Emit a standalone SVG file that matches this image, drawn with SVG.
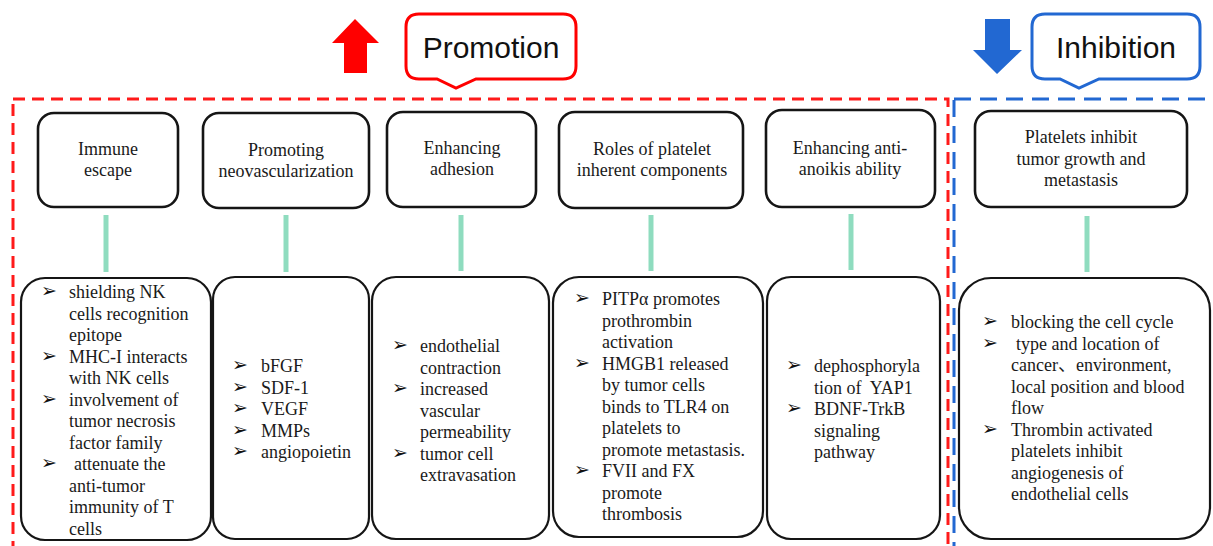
<svg xmlns="http://www.w3.org/2000/svg" width="1213" height="546" viewBox="0 0 1213 546">
<style>
.hb{fill:#fff;stroke:#151515;stroke-width:2.6}
.bb{fill:#fff;stroke:#151515;stroke-width:2.2}
.ht{font-family:"Liberation Serif",serif;font-size:18px;fill:#1a1a1a;text-anchor:middle}
.bt{font-family:"Liberation Serif","Noto Sans CJK SC",serif;font-size:18px;fill:#1a1a1a}
.bu{font-family:"DejaVu Sans",sans-serif;font-size:19px;fill:#111}
.cn{stroke:#8fdcbf;stroke-width:5}
.lab{font-family:"Liberation Sans",Arial,sans-serif;font-size:30px;fill:#111;text-anchor:middle}
</style>
<rect width="1213" height="546" fill="#fff"/>
<!-- region frames -->
<rect x="13" y="99" width="935" height="470" fill="none" stroke="#ff1a1a" stroke-width="3" stroke-dasharray="12 7"/>
<rect x="954" y="99" width="280" height="470" fill="none" stroke="#2268d2" stroke-width="3" stroke-dasharray="17 9"/>
<!-- arrows and callouts -->
<g id="promotion">
<polygon points="355,19 379,43 367,43 367,73 344,73 344,43 332,43" fill="#ff0000"/>
<path d="M419,14 H563 Q576,14 576,27 V66 Q576,79 563,79 H476 L456,88 L437,79 H419 Q406,79 406,66 V27 Q406,14 419,14 Z" fill="#fff" stroke="#ff0000" stroke-width="3"/>
<text class="lab" x="491" y="58">Promotion</text>
</g>
<g id="inhibition">
<polygon points="985,19 1010,19 1010,50 1022,50 997,74 973,50 985,50" fill="#2268d2"/>
<path d="M1045,14 H1187 Q1200,14 1200,27 V66 Q1200,79 1187,79 H1099 L1079,88 L1060,79 H1045 Q1032,79 1032,66 V27 Q1032,14 1045,14 Z" fill="#fff" stroke="#2268d2" stroke-width="3"/>
<text class="lab" x="1116" y="58">Inhibition</text>
</g>
<!-- connectors -->
<g id="connectors">
<line class="cn" x1="106" y1="215" x2="106" y2="272"/>
<line class="cn" x1="286" y1="215" x2="286" y2="272"/>
<line class="cn" x1="461" y1="215" x2="461" y2="271"/>
<line class="cn" x1="651" y1="215" x2="651" y2="271"/>
<line class="cn" x1="851" y1="214" x2="851" y2="270"/>
<line class="cn" x1="1087" y1="216" x2="1087" y2="272"/>
</g>
<!-- header nodes -->
<g id="h1"><rect class="hb" x="38" y="113" width="140" height="94" rx="16"/>
<text class="ht" x="108" y="155">Immune</text><text class="ht" x="108" y="176">escape</text></g>
<g id="h2"><rect class="hb" x="203" y="113" width="166" height="95" rx="16"/>
<text class="ht" x="286" y="156">Promoting</text><text class="ht" x="286" y="177">neovascularization</text></g>
<g id="h3"><rect class="hb" x="387" y="112" width="149" height="95" rx="16"/>
<text class="ht" x="462" y="154">Enhancing</text><text class="ht" x="462" y="175">adhesion</text></g>
<g id="h4"><rect class="hb" x="559" y="112" width="184" height="96" rx="16"/>
<text class="ht" x="652" y="155">Roles of platelet</text><text class="ht" x="652" y="176">inherent components</text></g>
<g id="h5"><rect class="hb" x="766" y="110" width="169" height="97" rx="16" stroke="#141a2a"/>
<text class="ht" x="850" y="154">Enhancing anti-</text><text class="ht" x="850" y="175">anoikis ability</text></g>
<g id="h6"><rect class="hb" x="975" y="111" width="212" height="96" rx="16"/>
<text class="ht" x="1081" y="143">Platelets inhibit</text><text class="ht" x="1081" y="165">tumor growth and</text><text class="ht" x="1081" y="186">metastasis</text></g>
<!-- detail nodes -->
<g id="d1"><rect class="bb" x="21" y="278" width="190" height="262" rx="24"/>
<text class="bu" x="41" y="297">➢</text><text class="bt" x="69" y="298">shielding NK</text>
<text class="bt" x="69" y="319.5">cells recognition</text>
<text class="bt" x="69" y="341">epitope</text>
<text class="bu" x="41" y="361.5">➢</text><text class="bt" x="69" y="362.5">MHC-I interacts</text>
<text class="bt" x="69" y="384">with NK cells</text>
<text class="bu" x="41" y="404.5">➢</text><text class="bt" x="69" y="405.5">involvement of</text>
<text class="bt" x="69" y="427">tumor necrosis</text>
<text class="bt" x="69" y="448.5">factor family</text>
<text class="bu" x="41" y="469">➢</text><text class="bt" x="74" y="470">attenuate the</text>
<text class="bt" x="69" y="491.5">anti-tumor</text>
<text class="bt" x="69" y="513">immunity of T</text>
<text class="bt" x="69" y="534.5">cells</text></g>
<g id="d2"><rect class="bb" x="213" y="277" width="156" height="262" rx="22"/>
<text class="bu" x="232" y="371">➢</text><text class="bt" x="261" y="372">bFGF</text>
<text class="bu" x="232" y="392.5">➢</text><text class="bt" x="261" y="393.5">SDF-1</text>
<text class="bu" x="232" y="414">➢</text><text class="bt" x="261" y="415">VEGF</text>
<text class="bu" x="232" y="435.5">➢</text><text class="bt" x="261" y="436.5">MMPs</text>
<text class="bu" x="232" y="457">➢</text><text class="bt" x="261" y="458">angiopoietin</text></g>
<g id="d3"><rect class="bb" x="372" y="277" width="177" height="262" rx="24"/>
<text class="bu" x="392" y="351">➢</text><text class="bt" x="420" y="352">endothelial</text>
<text class="bt" x="420" y="373.5">contraction</text>
<text class="bu" x="392" y="394">➢</text><text class="bt" x="420" y="395">increased</text>
<text class="bt" x="420" y="416.5">vascular</text>
<text class="bt" x="420" y="438">permeability</text>
<text class="bu" x="392" y="458.5">➢</text><text class="bt" x="420" y="459.5">tumor cell</text>
<text class="bt" x="420" y="481">extravasation</text></g>
<g id="d4"><rect class="bb" x="553" y="277" width="210" height="260" rx="26"/>
<text class="bu" x="574" y="304">➢</text><text class="bt" x="602" y="305">PITPα promotes</text>
<text class="bt" x="602" y="326.5">prothrombin</text>
<text class="bt" x="602" y="348">activation</text>
<text class="bu" x="574" y="368.5">➢</text><text class="bt" x="602" y="369.5">HMGB1 released</text>
<text class="bt" x="602" y="391">by tumor cells</text>
<text class="bt" x="602" y="412.5">binds to TLR4 on</text>
<text class="bt" x="602" y="434">platelets to</text>
<text class="bt" x="602" y="455.5">promote metastasis.</text>
<text class="bu" x="574" y="476">➢</text><text class="bt" x="602" y="477">FVII and FX</text>
<text class="bt" x="602" y="498.5">promote</text>
<text class="bt" x="602" y="520">thrombosis</text></g>
<g id="d5"><rect class="bb" x="767" y="277" width="173" height="262" rx="24"/>
<text class="bu" x="786" y="371">➢</text><text class="bt" x="814" y="372">dephosphoryla</text>
<text class="bt" x="814" y="393.5">tion of&#160; YAP1</text>
<text class="bu" x="786" y="414">➢</text><text class="bt" x="814" y="415">BDNF-TrkB</text>
<text class="bt" x="814" y="436.5">signaling</text>
<text class="bt" x="814" y="458">pathway</text></g>
<g id="d6"><rect class="bb" x="959" y="278" width="251" height="261" rx="32"/>
<text class="bu" x="982" y="327">➢</text><text class="bt" x="1011" y="328">blocking the cell cycle</text>
<text class="bu" x="982" y="348.5">➢</text><text class="bt" x="1016" y="349.5">type and location of</text>
<text class="bt" x="1011" y="371">cancer、environment,</text>
<text class="bt" x="1011" y="392.5">local position and blood</text>
<text class="bt" x="1011" y="414">flow</text>
<text class="bu" x="982" y="434.5">➢</text><text class="bt" x="1011" y="435.5">Thrombin activated</text>
<text class="bt" x="1011" y="457">platelets inhibit</text>
<text class="bt" x="1011" y="478.5">angiogenesis of</text>
<text class="bt" x="1011" y="500">endothelial cells</text></g>
</svg>
